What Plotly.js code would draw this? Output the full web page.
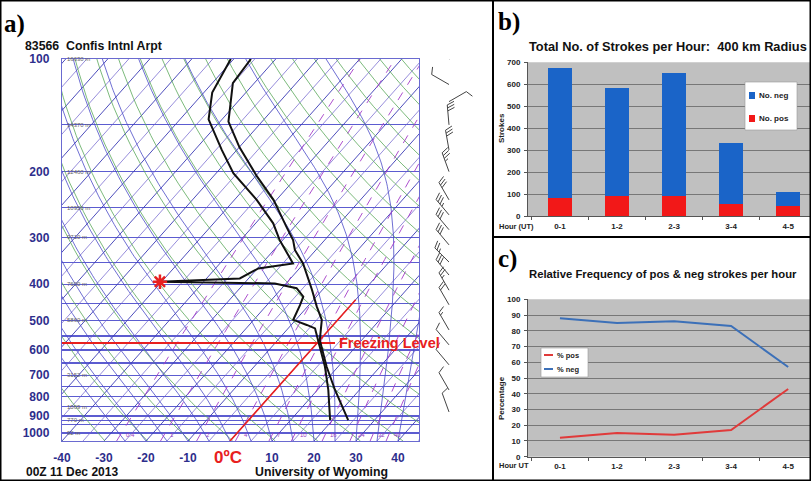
<!DOCTYPE html>
<html><head><meta charset="utf-8">
<script src="https://cdn.plot.ly/plotly-3.0.1.min.js"></script>
<style>html,body{margin:0;padding:0;background:#fff;overflow:hidden}#chart{width:811px;height:481px}</style>
</head><body><div id="chart"></div>
<script>
// ---------- panel a: sounding data ----------
const tempPres = [923,767,665,564,498,459,414,374,352,324,305,281,238,206,172,147,116,100];
const tempC    = [23.7,14.2,7.3,0.0,-3.8,-7.8,-12.5,-17.3,-20.2,-25.0,-27.5,-31.9,-40.7,-49.6,-60.0,-68.0,-75.1,-75.9];
const dewPres  = [923,767,665,564,525,514,498,455,432,410,398,394,386,363,352,317,305,275,238,202,175,145,123,100];
const dewC     = [19.4,12.6,6.9,-0.5,-3.6,-6.3,-10.6,-12.1,-13.1,-16.5,-22.7,-50.4,-32.1,-29.8,-22.6,-28.5,-30.7,-35.8,-44.7,-55.9,-63.6,-73.2,-78.0,-80.7];
const markPres = [394];
const markC    = [-50.4];
const freezingPres = [574];
const heightPres = [100,150,200,250,300,400,500,700,850,925,1000];
const heightLbl  = ['16630 m','14370 m','12460 m','10950 m','9710 m','7600 m','5860 m','3152 m','1569 m','770 m','92 m'];
const windPres = [100,117,130,150,175,200,238,261,286,314,349,378,415,454,530,581,657,767,878];
const windDir  = [60,300,60,355,350,340,330,320,320,320,315,320,330,330,330,320,320,330,340];
const windKt   = [10,10,10,30,30,35,30,35,30,30,25,30,25,20,15,10,10,10,10];
const tempTicks = [-40,-30,-20,-10,0,10,20,30,40];
const presLabels = [100,200,300,400,500,600,700,800,900,1000];
const mixRatios = ['0.4','1','2','4','7','10','16','24','32','40'];
// ---------- panels b, c ----------
const hours = ['0-1','1-2','2-3','3-4','4-5'];
const posStrokes = [80,90,90,55,46];
const negStrokes = [595,495,562,276,62];
const pctPos = [12,15,14,17,43];
const pctNeg = [88,85,86,83,57];

// ---------- geometry helpers ----------
const W=811,H=481;
const px=x=>x/W, py=y=>1-y/H;
const PB=1050, PT=100, SKEW=34.4;
const FX0=62, FX1=419, FY0=59, FY1=441;
const sk=(T,p)=>T+SKEW*Math.log(PB/p);
const KY=(FY1-FY0)/Math.log(PB/PT);
const yPix=p=>FY1-KY*Math.log(PB/p);
const FONT='Liberation Sans, Arial, sans-serif';

// background lines of the skew-T diagram
const presSteps=[]; for(let i=0;i<=40;i++) presSteps.push(PB*Math.pow(PT/PB,i/40));
function family(fn, params){ const xs=[],ys=[]; params.forEach(v=>{ presSteps.forEach(p=>{const T=fn(v,p); xs.push(sk(T,p)); ys.push(p);}); xs.push(null); ys.push(null);}); return {xs,ys}; }
const isoT=[]; for(let t=-120;t<=40;t+=10) isoT.push(t);
const isoT5=[]; for(let t=-125;t<=45;t+=10) isoT5.push(t);
const thetas=[]; for(let th=230;th<=470;th+=10) thetas.push(th);
const iso=family((t,p)=>t, isoT);
const iso5=family((t,p)=>t, isoT5);
const dry=family((th,p)=>th*Math.pow(p/1000,0.2857)-273.15, thetas);
const es=T=>6.112*Math.exp(17.67*T/(T+243.5));
const wT=(w,p)=>{const e=w*p/(622+w); const L=Math.log(e/6.112); return 243.5*L/(17.67-L);};
const mix=family((w,p)=>wT(w,p), mixRatios.map(Number));
// moist adiabats (pseudo-adiabatic integration)
const moist={xs:[],ys:[]};
for(let t0=-25;t0<=45;t0+=5){
  let T=t0+273.15, lp=Math.log(PB);
  const end=Math.log(PT), n=120, d=(end-lp)/n;
  for(let i=0;i<=n;i++){
    const p=Math.exp(lp);
    moist.xs.push(sk(T-273.15,p)); moist.ys.push(p);
    const e=es(T-273.15), rs=0.622*e/(p-e);
    const dT=(287.04*T+2.501e6*rs)/(1005.7+2.501e6*2.501e6*rs*0.622/(287.04*T*T));
    T+=dT*d; lp+=d;
  }
  moist.xs.push(null); moist.ys.push(null);
}
// wind barbs in pixel space
const barbs={xs:[],ys:[]};
windPres.forEach((p,i)=>{
  const x0=449, y0=yPix(p), r=windDir[i]*Math.PI/180;
  const dx=Math.sin(r), dy=-Math.cos(r), L=20;
  const tx=x0+dx*L, ty=y0+dy*L, qx=-dy, qy=dx;
  barbs.xs.push(x0,tx,null); barbs.ys.push(y0,ty,null);
  let k=Math.round(windKt[i]/5)*5, pos=0;
  while(k>=10){const sx=tx-dx*pos, sy=ty-dy*pos; barbs.xs.push(sx,sx+qx*7+dx*3,null); barbs.ys.push(sy,sy+qy*7+dy*3,null); pos+=3; k-=10;}
  if(k>=5){ if(pos===0) pos=3; const sx=tx-dx*pos, sy=ty-dy*pos; barbs.xs.push(sx,sx+qx*3.5+dx*1.5,null); barbs.ys.push(sy,sy+qy*3.5+dy*1.5,null);}
});

// x (skewed) position of the freezing-level line's right end
const freezeEndX = 25;

const traces=[
  {x:iso5.xs,y:iso5.ys,mode:'lines',line:{color:'#6a5ccc',width:0.7},hoverinfo:'skip',showlegend:false,xaxis:'x',yaxis:'y'},
  {x:iso.xs,y:iso.ys,mode:'lines',line:{color:'#3a3ab4',width:0.9},hoverinfo:'skip',showlegend:false,xaxis:'x',yaxis:'y'},
  {x:dry.xs,y:dry.ys,mode:'lines',line:{color:'#5aa85a',width:0.8},hoverinfo:'skip',showlegend:false,xaxis:'x',yaxis:'y'},
  {x:moist.xs,y:moist.ys,mode:'lines',line:{color:'#4a4ac8',width:0.8},hoverinfo:'skip',showlegend:false,xaxis:'x',yaxis:'y'},
  {x:mix.xs,y:mix.ys,mode:'lines',line:{color:'#a43cc8',width:0.9,dash:'dash'},hoverinfo:'skip',showlegend:false,xaxis:'x',yaxis:'y'},
  {x:[-40,freezeEndX],y:[freezingPres[0],freezingPres[0]],mode:'lines',line:{color:'#e82020',width:2},showlegend:false,xaxis:'x',yaxis:'y'},
  {x:[sk(0,PB),sk(0,440)],y:[PB,440],mode:'lines',line:{color:'#e82020',width:1.6},showlegend:false,xaxis:'x',yaxis:'y'},
  {x:dewPres.map((p,i)=>sk(dewC[i],p)),y:dewPres,mode:'lines',line:{color:'#111',width:2},showlegend:false,xaxis:'x',yaxis:'y'},
  {x:tempPres.map((p,i)=>sk(tempC[i],p)),y:tempPres,mode:'lines',line:{color:'#111',width:2},showlegend:false,xaxis:'x',yaxis:'y'},
  {x:markPres.map((p,i)=>sk(markC[i],p)),y:markPres,mode:'markers',marker:{symbol:'asterisk-open',size:12,color:'#e82020',line:{color:'#e82020',width:2.5}},showlegend:false,xaxis:'x',yaxis:'y'},
  {x:barbs.xs,y:barbs.ys,mode:'lines',line:{color:'#444',width:1},showlegend:false,xaxis:'x4',yaxis:'y4'},
  // panel b
  {type:'bar',x:hours,y:posStrokes,name:'No. pos',marker:{color:'#f21818'},width:0.42,xaxis:'x2',yaxis:'y2',showlegend:false},
  {type:'bar',x:hours,y:negStrokes,name:'No. neg',marker:{color:'#1a64c8'},width:0.42,xaxis:'x2',yaxis:'y2',showlegend:false},
  // panel c
  {type:'scatter',mode:'lines',x:hours,y:pctPos,name:'% pos',line:{color:'#e03a3a',width:2},xaxis:'x3',yaxis:'y3',showlegend:false},
  {type:'scatter',mode:'lines',x:hours,y:pctNeg,name:'% neg',line:{color:'#3c70b8',width:2},xaxis:'x3',yaxis:'y3',showlegend:false}
];

const isobars=[]; for(let p=100;p<=1000;p+=50) isobars.push(p); isobars.push(925);
isobars.sort((a,b)=>a-b);
const blueFont={family:FONT,size:12,color:'#2e2e8c',weight:'bold'};
const smallBold={family:FONT,size:8,color:'#222',weight:'bold'};

const ann=[];
const A=(text,x,y,opt)=>ann.push(Object.assign({text,x:px(x),y:py(y),xref:'paper',yref:'paper',showarrow:false,xanchor:'left',yanchor:'middle',font:{family:FONT,size:11,color:'#111',weight:'bold'}},opt||{}));
A('a)',2,24,{font:{family:'Liberation Serif, serif',size:25,color:'#000',weight:'bold'}});
A('b)',496,22,{font:{family:'Liberation Serif, serif',size:25,color:'#000',weight:'bold'}});
A('c)',496,259,{font:{family:'Liberation Serif, serif',size:25,color:'#000',weight:'bold'}});
A('83566  Confis Intnl Arpt',23,46,{font:{family:FONT,size:12.3,color:'#111',weight:'bold'}});
A('00Z 11 Dec 2013',24,472,{font:{family:FONT,size:12,color:'#111',weight:'bold'}});
A('University of Wyoming',321,472,{xanchor:'center',font:{family:FONT,size:12.3,color:'#111',weight:'bold'}});
A('0ºC',228,457,{xanchor:'center',font:{family:FONT,size:17,color:'#e82020',weight:'bold'}});
A('Freezing Level',337,343,{font:{family:FONT,size:14.5,color:'#e82020',weight:'bold'}});
A('Total No. of Strokes per Hour:  400 km Radius',527,46,{font:{family:FONT,size:12.8,color:'#111',weight:'bold'}});
A('Relative Frequency of pos &amp; neg strokes per hour',527,274,{font:{family:FONT,size:11.3,color:'#111',weight:'bold'}});
A('Strokes',501,128,{xanchor:'center',textangle:-90,font:smallBold});
A('Percentage',501,398,{xanchor:'center',textangle:-90,font:smallBold});
A('Hour (UT)',497,226,{font:{family:FONT,size:7.5,color:'#222',weight:'bold'}});
A('Hour UT',497,465,{font:{family:FONT,size:7.5,color:'#222',weight:'bold'}});
// manual legends (b and c)
A('No. neg',757,95.5,{font:smallBold});
A('No. pos',757,118,{font:smallBold});
A('% pos',555,355,{font:{family:FONT,size:7.5,color:'#222',weight:'bold'}});
A('% neg',555,369,{font:{family:FONT,size:7.5,color:'#222',weight:'bold'}});
heightPres.forEach((p,i)=>ann.push({text:heightLbl[i],x:-39.3,y:Math.log10(p),xref:'x',yref:'y',showarrow:false,xanchor:'left',yanchor:'middle',font:{family:FONT,size:6,color:'#666'}}));
mixRatios.forEach(w=>ann.push({text:w,x:sk(wT(Number(w),1000),1000)+0.6,y:Math.log10(1012),xref:'x',yref:'y',showarrow:false,xanchor:'left',yanchor:'middle',font:{family:FONT,size:6,color:'#9a3cc0'}}));

const R=(x0,y0,x1,y1,fill,line)=>({type:'rect',xref:'paper',yref:'paper',x0:px(x0),x1:px(x1),y0:py(y1),y1:py(y0),fillcolor:fill,line:line||{width:0}});
const shapes=[
  {type:'rect',xref:'x2 domain',yref:'y2 domain',x0:0,x1:1,y0:0,y1:1,fillcolor:'#c0c0c0',line:{width:0},layer:'below'},
  {type:'rect',xref:'x3 domain',yref:'y3 domain',x0:0,x1:1,y0:0,y1:1,fillcolor:'#c0c0c0',line:{width:0},layer:'below'},
  R(745,82,797,130,'#fff',{color:'#999',width:0.6}),
  R(749,92,755,99,'#1a64c8'),
  R(749,115,755,122,'#f21818'),
  R(541,348,588,377,'#fff',{color:'#999',width:0.6}),
  {type:'line',xref:'paper',yref:'paper',x0:px(544),x1:px(553),y0:py(355),y1:py(355),line:{color:'#e03a3a',width:2}},
  {type:'line',xref:'paper',yref:'paper',x0:px(544),x1:px(553),y0:py(369),y1:py(369),line:{color:'#3c70b8',width:2}},
  {type:'rect',xref:'paper',yref:'paper',x0:0,x1:1,y0:0,y1:1,line:{color:'#000',width:3},fillcolor:'rgba(0,0,0,0)'},
  {type:'line',xref:'paper',yref:'paper',x0:px(493),x1:px(493),y0:0,y1:1,line:{color:'#000',width:2}},
  {type:'line',xref:'paper',yref:'paper',x0:px(493),x1:1,y0:py(237),y1:py(237),line:{color:'#000',width:2}}
];

const catAxis=(dom,anchor)=>({domain:dom,anchor,type:'category',range:[-0.56,4.4],showgrid:false,zeroline:false,showline:true,linecolor:'#555',linewidth:1,ticks:'outside',tickson:'boundaries',ticklen:3,tickcolor:'#555',tickfont:smallBold,ticklabelstandoff:2});
const layout={
  width:W,height:H,margin:{l:0,r:0,t:0,b:0,pad:0},autosize:false,paper_bgcolor:'#fff',plot_bgcolor:'rgba(0,0,0,0)',
  barmode:'stack',showlegend:false,
  xaxis:{domain:[px(FX0),px(FX1)],anchor:'y',range:[-40,45],showgrid:false,zeroline:false,tickvals:tempTicks,ticktext:tempTicks.map(t=>t===0?'':String(t)),tickfont:blueFont,ticks:'',ticklabelstandoff:5,showline:true,mirror:true,linecolor:'#6a6ad0',linewidth:1.2},
  yaxis:{domain:[py(FY1),py(FY0)],anchor:'x',type:'log',range:[Math.log10(PB),Math.log10(PT)],tickvals:isobars,ticktext:isobars.map(p=>presLabels.includes(p)?String(p):''),tickfont:blueFont,ticks:'',ticklabelstandoff:9,showgrid:true,gridcolor:'#5c5cd0',gridwidth:1.2,zeroline:false,showline:true,mirror:true,linecolor:'#6a6ad0',linewidth:1.2},
  xaxis4:{domain:[px(420),px(490)],anchor:'y4',range:[420,490],visible:false},
  yaxis4:{domain:[py(FY1),py(FY0)],anchor:'x4',range:[FY1,FY0],visible:false},
  xaxis2:catAxis([px(528),1],'y2'),
  yaxis2:{domain:[py(216),py(62.3)],anchor:'x2',range:[0,700],dtick:100,showgrid:true,gridcolor:'#777',gridwidth:1,zeroline:false,showline:true,linecolor:'#555',ticks:'outside',ticklen:3,tickcolor:'#555',tickfont:smallBold,ticklabelstandoff:2},
  xaxis3:catAxis([px(528),1],'y3'),
  yaxis3:{domain:[py(456.7),py(299.3)],anchor:'x3',range:[0,100],dtick:10,showgrid:true,gridcolor:'#777',gridwidth:1,zeroline:false,showline:true,linecolor:'#555',ticks:'outside',ticklen:3,tickcolor:'#555',tickfont:smallBold,ticklabelstandoff:2},
  annotations:ann,shapes:shapes
};
Plotly.newPlot('chart',traces,layout,{displayModeBar:false,staticPlot:true});
</script></body></html>
